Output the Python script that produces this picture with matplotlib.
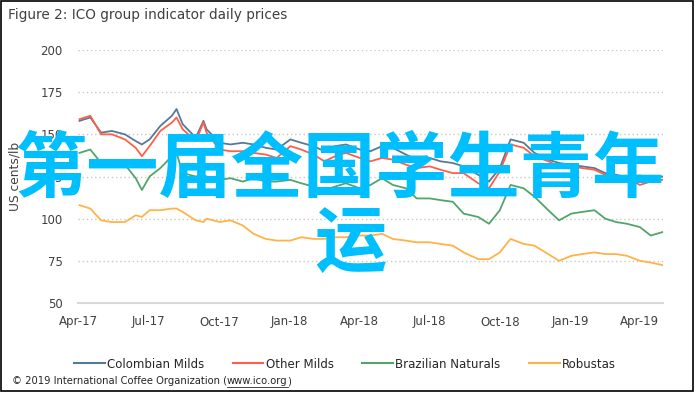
import matplotlib
matplotlib.use("Agg")
import matplotlib.pyplot as plt
import matplotlib.dates as mdates
from matplotlib.patches import Rectangle
from matplotlib.lines import Line2D
import pandas as pd

# ---------------- data ----------------
dates = ["2017-04-03", "2017-04-17", "2017-05-01", "2017-05-15", "2017-06-01", "2017-06-15",
         "2017-06-23", "2017-07-03", "2017-07-17", "2017-08-01", "2017-08-07", "2017-08-15",
         "2017-09-01", "2017-09-11", "2017-09-15",
         "2017-10-02", "2017-10-16", "2017-11-01", "2017-11-15", "2017-12-01", "2017-12-15",
         "2018-01-02", "2018-01-16", "2018-02-01", "2018-02-15", "2018-03-01", "2018-03-15",
         "2018-04-02", "2018-04-16", "2018-05-01", "2018-05-15", "2018-06-01", "2018-06-15",
         "2018-07-02", "2018-07-16", "2018-08-01", "2018-08-15", "2018-09-03", "2018-09-17",
         "2018-10-01", "2018-10-15", "2018-11-01", "2018-11-15", "2018-12-03", "2018-12-17",
         "2019-01-02", "2019-01-16", "2019-02-01", "2019-02-15", "2019-03-01", "2019-03-15",
         "2019-04-01", "2019-04-15", "2019-04-30"]

colombian_milds = [158, 160, 151, 152, 150, 146,
                   144, 147, 155, 161, 165, 156,
                   148, 158, 153,
                   145, 144, 145, 144, 142, 141,
                   147, 145, 143, 140, 143, 144,
                   141, 140, 143, 142, 138, 135,
                   136, 134, 133, 131, 126, 122,
                   130, 147, 145, 139, 135, 133,
                   132, 131, 130, 127, 126, 124.5,
                   125.6, 124, 125]

other_milds = [159, 161, 150, 150, 147, 142,
               137, 143, 152, 157, 160, 153,
               146, 157, 151,
               141, 140, 140, 139, 138, 136,
               143, 141, 138, 134, 137, 139,
               136, 134, 136, 135, 132, 130,
               131, 129, 127, 127, 121, 118,
               128, 144, 142, 137, 134, 131,
               131, 130, 129, 126, 125, 124,
               120, 122, 123]

brazilian_naturals = [139, 141, 133, 133, 132, 124,
                      117, 125, 130, 137, 139, 127,
                      125, 126, 125,
                      123, 124, 122, 124, 122, 122,
                      123, 121, 119, 117, 119, 121,
                      118, 120, 124, 120, 118, 112,
                      112, 111, 110, 103, 101, 97,
                      105, 120, 118, 113, 105, 99,
                      103, 104, 105, 100, 98, 97,
                      95, 90, 92]

robustas = [108, 106, 99, 98, 98, 102,
            101, 105, 105, 106, 106, 104,
            99, 98, 100,
            98, 99, 96, 91, 88, 87,
            87, 89, 88, 88, 89, 89,
            90, 90, 91, 88, 87, 86,
            86, 85, 84, 80, 76, 76,
            80, 88, 85, 84, 79, 75,
            78, 79, 80, 79, 79, 78,
            75, 74, 72.5]

series_names = ["Colombian Milds", "Other Milds", "Brazilian Naturals", "Robustas"]
series_colors = ["#557a95", "#ff5f4a", "#52a56a", "#ffb347"]
yticks = [50, 75, 100, 125, 150, 175, 200]

title_text = "Figure 2: ICO group indicator daily prices"
ylabel_text = "US cents/lb"
copyright_pre = "\u00a9 2019 International Coffee Organization ("
copyright_link = "www.ico.org"
copyright_post = ")"
watermark_line1 = "第一届全国学生青年"
watermark_line2 = "运"

# ---------------- figure ----------------
W, H = 695, 394
fig = plt.figure(figsize=(W / 100, H / 100), dpi=100)
fig.patch.set_facecolor("white")

ax = fig.add_axes([78 / W, 1 - 303 / H, (663 - 78) / W, (303 - 50) / H])
x = pd.to_datetime(dates)
for vals, name, col in zip([colombian_milds, other_milds, brazilian_naturals, robustas],
                           series_names, series_colors):
    ax.plot(x, vals, color=col, lw=1.3, label=name, solid_joinstyle="round")

ax.set_ylim(50, 200)
ax.set_xlim(pd.Timestamp("2017-04-01"), pd.Timestamp("2019-05-01"))
ax.set_yticks(yticks)
ax.xaxis.set_major_locator(mdates.MonthLocator(bymonth=[1, 4, 7, 10]))
ax.xaxis.set_major_formatter(mdates.DateFormatter("%b-%y"))
for s in ["top", "right", "left"]:
    ax.spines[s].set_visible(False)
ax.spines["bottom"].set_color("#d9d9d9")
ax.spines["bottom"].set_linewidth(1.5)
ax.tick_params(axis="both", length=0, labelsize=8.5, labelcolor="#404040")
ax.tick_params(axis="x", pad=9)
ax.tick_params(axis="y", pad=11)
ax.grid(axis="y", color="#c8c8c8", linestyle=(0, (1, 2)), linewidth=1.0)
ax.set_axisbelow(True)
ax.set_ylabel(ylabel_text, fontsize=8.8, color="#404040")
ax.yaxis.set_label_coords(-0.097, 0.5)

# title
fig.text(8 / W, 1 - 15 / H, title_text, fontsize=9.8, color="#404040",
         ha="left", va="center")

# legend
handles = [Line2D([0], [0], color=c, lw=1.5) for c in series_colors]
fig.legend(handles, series_names, loc="center", bbox_to_anchor=(345 / W, 1 - 364 / H),
           ncol=4, frameon=False, fontsize=8.5, handlelength=2.6, handletextpad=0.2,
           columnspacing=2.4, labelcolor="#262626")

# copyright line with underlined link
fs_c = 7.2
t1 = fig.text(12 / W, 1 - 381 / H, copyright_pre, fontsize=fs_c, color="#262626",
              ha="left", va="center")
fig.canvas.draw()
r = fig.canvas.get_renderer()
bb1 = t1.get_window_extent(r)
t2 = fig.text(bb1.x1 / W, 1 - 381 / H, copyright_link, fontsize=fs_c, color="#262626",
              ha="left", va="center")
bb2 = t2.get_window_extent(r)
fig.text(bb2.x1 / W, 1 - 381 / H, copyright_post, fontsize=fs_c, color="#262626",
         ha="left", va="center")
fig.add_artist(Line2D([bb2.x0 / W, bb2.x1 / W], [(bb2.y0 - 0.5) / H] * 2,
                      color="#262626", lw=0.6))

# watermark
cjk = ["Noto Sans CJK SC", "DejaVu Sans"]
fig.text(340 / W, 1 - 171 / H, watermark_line1, family=cjk, fontsize=52, fontweight="bold",
         color="#00bfff", ha="center", va="center", zorder=10)
fig.text(350 / W, 1 - 246 / H, watermark_line2, family=cjk, fontsize=52, fontweight="bold",
         color="#00bfff", ha="center", va="center", zorder=10)

# outer frame
fig.add_artist(Rectangle((0.5 / W, 1 - 391 / H), 692 / W, 390.3 / H, fill=False,
                         edgecolor="black", lw=1.2, transform=fig.transFigure))

fig.savefig("out.png", dpi=100)
